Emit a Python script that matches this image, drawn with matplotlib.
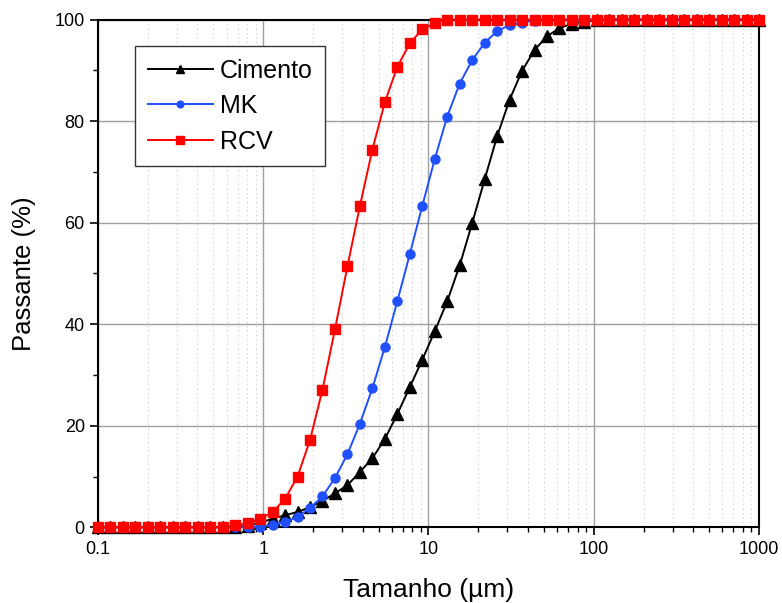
import matplotlib
matplotlib.use('Agg')
import matplotlib.pyplot as plt
from matplotlib.ticker import LogLocator, FixedLocator, NullFormatter

plt.rcParams['font.family'] = ['Liberation Sans', 'DejaVu Sans']

# particle size (um), same grid for the three materials
tamanho = [0.1, 0.119, 0.1416, 0.1684, 0.2004, 0.2384, 0.2837, 0.3376, 0.4016, 0.4779,
           0.5686, 0.6765, 0.8049, 0.9575, 1.139, 1.356, 1.613, 1.919, 2.283, 2.717,
           3.232, 3.846, 4.576, 5.444, 6.477, 7.707, 9.170, 10.91, 12.98, 15.45,
           18.38, 21.86, 26.01, 30.95, 36.83, 43.82, 52.13, 62.03, 73.80, 87.81,
           104.5, 124.3, 147.9, 176.0, 209.4, 249.1, 296.4, 352.7, 419.6, 499.2,
           594.0, 706.8, 840.9, 1000.0]

cimento = [0, 0, 0, 0, 0, 0, 0, 0, 0, 0,
           0, 0, 0.3, 0.9, 1.7, 2.4, 3.0, 4.0, 5.2, 6.7,
           8.3, 10.9, 13.6, 17.4, 22.3, 27.6, 33.0, 38.6, 44.5, 51.6,
           59.9, 68.5, 77.0, 84.2, 89.9, 94.0, 96.7, 98.3, 99.2, 99.6,
           99.9, 100, 100, 100, 100, 100, 100, 100, 100, 100,
           100, 100, 100, 100]

mk = [0, 0, 0, 0, 0, 0, 0, 0, 0, 0,
      0, 0, 0, 0.1, 0.5, 1.0, 2.1, 3.8, 6.1, 9.7,
      14.4, 20.4, 27.4, 35.5, 44.5, 53.8, 63.3, 72.5, 80.9, 87.4,
      92.0, 95.4, 97.7, 98.9, 99.4, 99.8, 100, 100, 100, 100,
      100, 100, 100, 100, 100, 100, 100, 100, 100, 100,
      100, 100, 100, 100]

rcv = [0, 0, 0, 0, 0, 0, 0, 0, 0, 0,
       0.1, 0.4, 0.8, 1.7, 3.0, 5.6, 10.0, 17.2, 27.1, 39.0,
       51.4, 63.3, 74.4, 83.7, 90.7, 95.3, 98.1, 99.3, 100, 100,
       100, 100, 100, 100, 100, 100, 100, 100, 100, 100,
       100, 100, 100, 100, 100, 100, 100, 100, 100, 100,
       100, 100, 100, 100]

fig = plt.figure(figsize=(7.82, 6.03), dpi=100)
ax = fig.add_axes([0.1253, 0.1255, 0.8453, 0.8421])

ax.plot(tamanho, cimento, color='black', lw=1.4, marker='^', ms=8, label='Cimento', clip_on=False, zorder=3)
ax.plot(tamanho, mk, color='#1f4fff', lw=1.4, marker='o', ms=6.5, label='MK', clip_on=False, zorder=4)
ax.plot(tamanho, rcv, color='#ff0000', lw=1.4, marker='s', ms=7, label='RCV', clip_on=False, zorder=5)

ax.set_xscale('log')
ax.set_xlim(0.1, 1000)
ax.set_ylim(0, 100)

ax.xaxis.set_major_locator(FixedLocator([0.1, 1, 10, 100, 1000]))
ax.set_xticklabels(['0.1', '1', '10', '100', '1000'])
ax.xaxis.set_minor_locator(LogLocator(base=10, subs=range(2, 10)))
ax.xaxis.set_minor_formatter(NullFormatter())
ax.set_yticks([0, 20, 40, 60, 80, 100])
ax.set_yticks([10, 30, 50, 70, 90], minor=True)

ax.grid(which='major', color='#a0a0a0', lw=1.0, ls='-', zorder=0)
ax.grid(which='minor', axis='x', color='#c8c8c8', lw=0.8, ls=(0, (1, 3)), zorder=0)
ax.set_axisbelow(True)

for s in ax.spines.values():
    s.set_linewidth(1.5)
    s.set_color('black')
ax.tick_params(which='major', direction='out', length=6, width=1.2, labelsize=13)
ax.tick_params(which='minor', direction='out', length=3.5, width=1.0)

ax.set_xlabel('Tamanho (µm)', fontsize=19, labelpad=15)
ax.set_ylabel('Passante (%)', fontsize=18.5, labelpad=13)

leg = ax.legend(loc='upper left', bbox_to_anchor=(0.056, 0.9475), borderaxespad=0,
                fontsize=18, fancybox=False, framealpha=1, edgecolor='#333333',
                handlelength=2.6, handletextpad=0.3, borderpad=0.5, labelspacing=0.46,
                markerscale=0.75)
leg.get_frame().set_linewidth(1.0)

fig.savefig('out.png', dpi=100)
plt.close()
